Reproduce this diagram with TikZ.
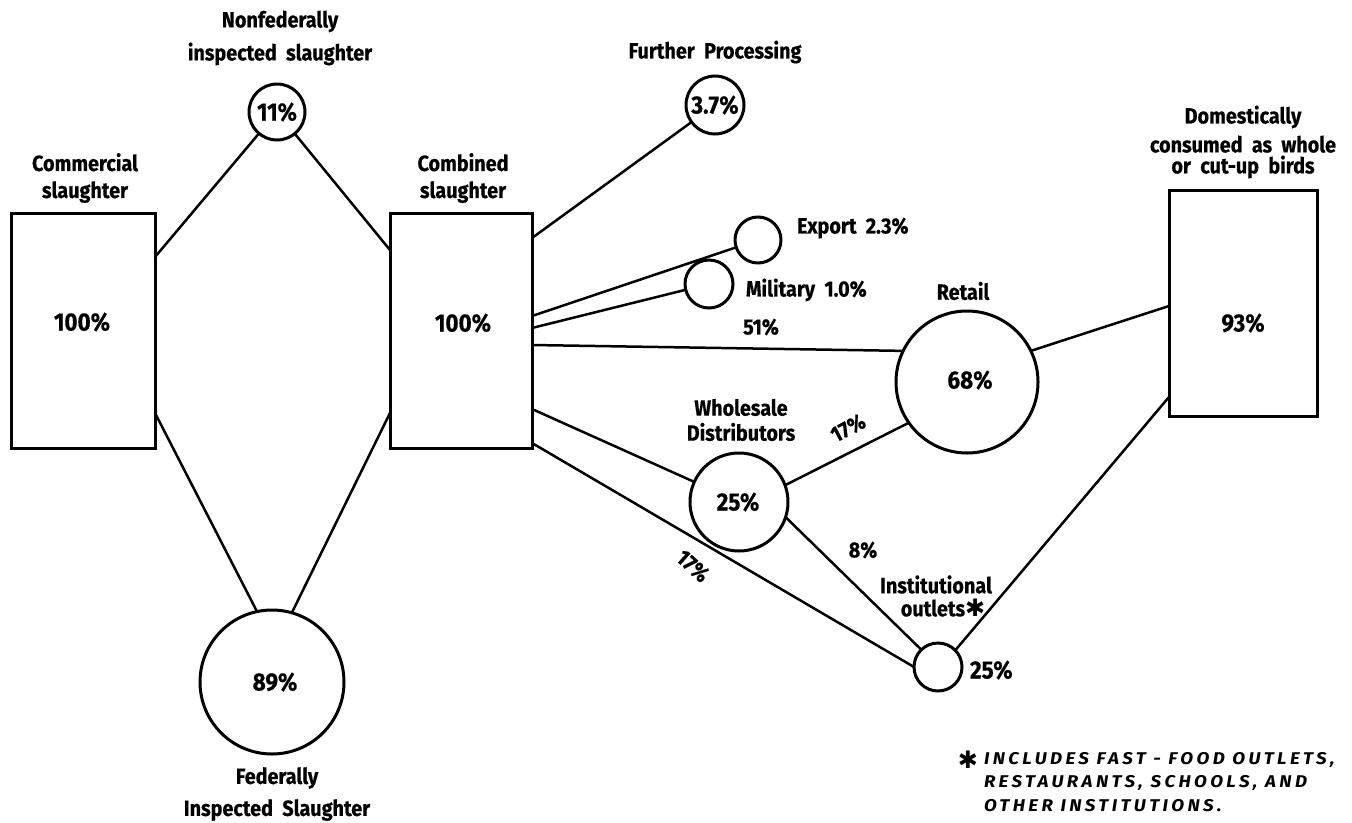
\documentclass[tikz,border=0pt]{standalone}
\usepackage{fontspec}
\setmainfont{Fira Sans}[FakeStretch=0.9, BoldFeatures={FakeBold=0.5}]
\newfontfamily\notefont{Fira Sans}[FakeStretch=1.1, LetterSpace=20]
\newfontfamily\symfont{DejaVu Sans}
\begin{document}
\begin{tikzpicture}[x=1pt,y=-1pt,
  every node/.style={inner sep=0pt, outer sep=0pt, align=center},
  lab/.style={font=\bfseries\fontsize{22}{27}\selectfont},
  pct/.style={font=\bfseries\fontsize{25}{28}\selectfont},
  stockbox/.style={draw, line width=3pt},
  stock/.style={draw, circle, line width=3pt, minimum size=#1},
  link/.style={line width=2.5pt},
  note/.style={font=\notefont\bfseries\itshape\fontsize{17}{22}\selectfont, anchor=west}]
\useasboundingbox (0,0) rectangle (1352,822);

% stocks: boxes
\node[stockbox, minimum width=144pt, minimum height=235pt] (comm) at (83,330.5) {};
\node[stockbox, minimum width=142pt, minimum height=235pt] (comb) at (461,330.5) {};
\node[stockbox, minimum width=148pt, minimum height=226pt] (domestic) at (1243,303) {};

% stocks: circles
\node[stock=56pt, pct] (nonfed) at (277,112) {11\%};
\node[stock=144pt] (fed) at (272,682) {};
\node[stock=58pt, pct] (further) at (715,105) {3.7\%};
\node[stock=46pt] (export) at (758,240) {};
\node[stock=48pt] (military) at (709,284) {};
\node[stock=142pt] (retail) at (967,382) {};
\node[stock=98pt] (whole) at (739,502) {};
\node[stock=48pt] (inst) at (938,667) {};

% percentages
\node[pct] (p-comm) at (82,322) {100\%};
\node[pct] (p-comb) at (463,323) {100\%};
\node[pct] (p-fed) at (275,682) {89\%};
\node[pct] (p-retail) at (970,380) {68\%};
\node[pct] (p-whole) at (738,502) {25\%};
\node[pct] (p-dom) at (1243,323) {93\%};
\node[pct, anchor=west] (p-inst) at (970,670) {25\%};

% titles
\node[lab] (t-comm) at (85,178) {Commercial\\slaughter};
\node[lab, font=\bfseries\fontsize{22}{33}\selectfont] (t-nonfed) at (280,38) {Nonfederally\\inspected\ \ slaughter};
\node[lab] (t-comb) at (463,178) {Combined\\slaughter};
\node[lab, font=\bfseries\fontsize{22}{32}\selectfont] (t-fed) at (277,794) {Federally\\Inspected\ \ Slaughter};
\node[lab] (t-further) at (715,52) {Further\ \ Processing};
\node[lab, anchor=west] (t-export) at (797,228) {Export\ \ 2.3\%};
\node[lab, anchor=west] (t-military) at (746,290) {Military\ \ 1.0\%};
\node[lab] (t-retail) at (963,291) {Retail};
\node[lab, font=\bfseries\fontsize{22}{25}\selectfont] (t-whole) at (741,420) {Wholesale\\Distributors};
\node[lab, font=\bfseries\fontsize{22}{23}\selectfont] (t-inst) at (936,596) {Institutional\\\hspace*{14pt}outlets{\symfont\fontsize{24}{23}\selectfont ✱}};
\node[lab] (t-dom1) at (1243,117) {Domestically};
\node[lab, font=\bfseries\fontsize{22}{21}\selectfont] (t-dom2) at (1243,157) {consumed\ \ as\ \ whole\\or\ \ cut-up\ \ birds};

% flows
\draw[link] ([yshift=73.5pt]comm.east) -- (nonfed);
\draw[link] (nonfed) -- ([yshift=80.5pt]comb.west);
\draw[link] ([yshift=-82.5pt]comm.east) -- (fed.102);
\draw[link] ([yshift=-82.5pt]comb.west) -- (fed.74);
\draw[link] ([yshift=92.5pt]comb.east) -- (further);
\draw[link] ([yshift=14.5pt]comb.east) -- (export);
\draw[link] ([yshift=2.5pt]comb.east) -- (military);
\draw[link] ([yshift=-14.5pt]comb.east) -- (retail.154);
\draw[link] ([yshift=-78.5pt]comb.east) -- (whole);
\draw[link] ([yshift=-112.5pt]comb.east) -- (inst.west);
\draw[link] (whole.20) -- (retail.215);
\draw[link] (whole.-18) -- (inst.134);
\draw[link] (inst.44) -- ([yshift=-94pt]domestic.west);
\draw[link] (retail.26) -- ([yshift=-3pt]domestic.west);

% flow shares
\node[lab] (f-retail) at (761,327) {51\%};
\node[lab, rotate=28] (f-wr) at (848,428) {17\%};
\node[lab] (f-wi) at (863,550) {8\%};
\node[lab, rotate=-42] (f-ci) at (693,566) {17\%};

% footnote
\node[font=\symfont\fontsize{24}{24}\selectfont] (fn-star) at (968,760) {✱};
\node[note] (fn1) at (984,760) {INCLUDES FAST - FOOD OUTLETS,};
\node[note] (fn2) at (984,783) {RESTAURANTS, SCHOOLS, AND};
\node[note] (fn3) at (984,806) {OTHER INSTITUTIONS.};
\end{tikzpicture}
\end{document}
